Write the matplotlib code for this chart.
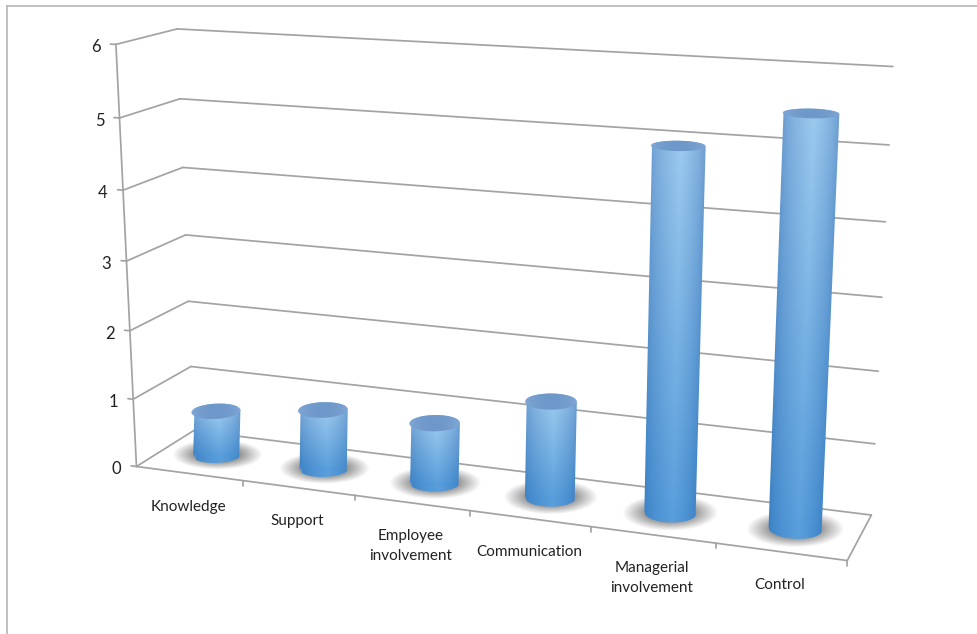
import numpy as np
import matplotlib
matplotlib.use("Agg")
import matplotlib.pyplot as plt
from matplotlib.patches import Polygon
from matplotlib.colors import to_rgb

categories = ["Knowledge", "Support", "Employee\ninvolvement", "Communication", "Managerial\ninvolvement", "Control"]
values = [0.66, 0.87, 0.87, 1.37, 4.97, 5.49]
value_ticks = [0, 1, 2, 3, 4, 5, 6]

# calibration of the 3-D box: (category pos, value, depth) -> pixel
anchors = [
    (0, 0, 0, 138, 467), (0, 1, 0, 133, 399), (0, 2, 0, 129, 330), (0, 3, 0, 126, 260),
    (0, 4, 0, 122, 190), (0, 5, 0, 120, 118), (0, 6, 0, 116, 45),
    (1, 0, 0, 244, 481), (2, 0, 0, 355, 496), (5, 0, 0, 716, 543), (6, 0, 0, 847, 561),
    (0, 0, 1, 193, 431), (0, 1, 1, 191, 366), (0, 2, 1, 188, 301), (0, 3, 1, 186, 235),
    (0, 4, 1, 182, 168), (0, 5, 1, 181, 99), (0, 6, 1, 177, 29),
    (6, 0, 1, 871, 515), (6, 1, 1, 875, 444), (6, 2, 1, 878, 371), (6, 3, 1, 882, 297),
    (6, 4, 1, 886, 221), (6, 5, 1, 889, 145), (6, 6, 1, 893, 67),
]
A, b = [], []
for u, v, d, x, y in anchors:
    A.append([u, v, d, 1, 0, 0, 0, 0, -x*u, -x*v, -x*d]); b.append(x)
    A.append([0, 0, 0, 0, u, v, d, 1, -y*u, -y*v, -y*d]); b.append(y)
coef = np.linalg.lstsq(np.array(A, float), np.array(b, float), rcond=None)[0]
M = np.append(coef, 1.0).reshape(3, 4)

def P(u, v, d):
    u, v, d = np.broadcast_arrays(np.asarray(u, float), np.asarray(v, float), np.asarray(d, float))
    h = M @ np.stack([u, v, d, np.ones_like(u)])
    return h[0]/h[2], h[1]/h[2]

GRID = "#a3a3a3"
W, H = 978, 634
fig = plt.figure(figsize=(W/100, H/100), dpi=100, facecolor="white")
ax = fig.add_axes([0, 0, 1, 1])
ax.set_xlim(0, W); ax.set_ylim(H, 0); ax.axis("off")

# outer frame
ax.plot([7, 7], [634, 6], color="#b0b0b0", lw=1.1)
ax.plot([7, 978], [6, 6], color="#b0b0b0", lw=1.1)

def seg(p, q, z=1):
    ax.plot([p[0], q[0]], [p[1], q[1]], color=GRID, lw=1.25, zorder=z, solid_capstyle="round")

n = len(categories)
for v in value_ticks:
    seg(P(-0.05, v, 0), P(0, v, 0))
    seg(P(0, v, 0), P(0, v, 1))
    seg(P(0, v, 1), P(n, v, 1))
    x, y = P(0, v, 0)
    ax.text(x-20, y+3, str(v), ha="center", va="center", fontsize=12, family="Lato", color="#222222")
seg(P(0, 0, 0), P(0, 6, 0))
seg(P(0, 0, 0), P(n, 0, 0))
seg(P(n, 0, 0), P(n, 0, 1))
for i in range(1, n+1):
    p = P(i, 0, 0)
    seg(p, (p[0], p[1]+5))

R_U, R_D = 0.205, 0.21
th = np.linspace(0, 2*np.pi, 181)

edge_top = np.array(to_rgb("#6b9bd0")); mid_top = np.array(to_rgb("#9ccaee"))
edge_bot = np.array(to_rgb("#3a80c4")); mid_bot = np.array(to_rgb("#5a9fdc"))
cap_mid = np.array(to_rgb("#6f98ca")); cap_edge = np.array(to_rgb("#7fa8d7"))

for i, (name, val) in enumerate(zip(categories, values)):
    c = i + 0.5
    bx, by = P(c + R_U*np.cos(th), 0, 0.5 + R_D*np.sin(th))
    tx, ty = P(c + R_U*np.cos(th), val, 0.5 + R_D*np.sin(th))

    # soft shadow on the floor
    cx, cy = (bx.max()+bx.min())/2, (by.max()+by.min())/2
    rx, ry = (bx.max()-bx.min())/2*1.85, (by.max()-by.min())/2*1.9
    xs = np.arange(cx-rx-2, cx+rx+3); ys = np.arange(cy-ry-2, cy+ry+3)
    gx, gy = np.meshgrid(xs, ys)
    rho = np.sqrt(((gx-cx)/rx)**2 + ((gy-cy)/ry)**2)
    sh = np.zeros(gx.shape+(4,))
    sh[..., :3] = 0.48
    sh[..., 3] = np.clip((1-rho)/0.5, 0, 1)*0.8
    ax.imshow(sh, extent=(xs[0], xs[-1], ys[-1], ys[0]), zorder=2, aspect="auto", interpolation="bilinear")

    # cylinder body
    li_b, ri_b = np.argmin(bx), np.argmax(bx)
    li_t, ri_t = np.argmin(tx), np.argmax(tx)
    front_b = np.where(np.sin(th) <= 0)[0]  # nearer half of base
    order = front_b[np.argsort(bx[front_b])]
    back_t = np.where(np.sin(th) >= 0)[0]
    order_t = back_t[np.argsort(-tx[back_t])]
    poly = np.vstack([np.c_[bx[order], by[order]], np.c_[tx[order_t], ty[order_t]]])
    patch = Polygon(poly, closed=True, fc="none", ec="none", transform=ax.transData)
    ax.add_patch(patch)
    x0, x1 = poly[:, 0].min()-1, poly[:, 0].max()+1
    y0, y1 = poly[:, 1].min()-1, poly[:, 1].max()+1
    xs = np.linspace(x0, x1, int(x1-x0)+1); ys = np.linspace(y0, y1, int(y1-y0)+1)
    gx, gy = np.meshgrid(xs, ys)
    f = (gy - ty[li_t])/(by[li_b]-ty[li_t])
    xl = tx[li_t] + (bx[li_b]-tx[li_t])*f
    xr = tx[ri_t] + (bx[ri_b]-tx[ri_t])*f
    t = np.clip((gx-xl)/(xr-xl), 0, 1)
    s = np.where(t < 0.55, t/0.55, (1-t)/0.45)**0.65
    fc = np.clip(f, 0, 1)[..., None]
    mid = mid_top + (mid_bot-mid_top)*fc
    edge = edge_top + (edge_bot-edge_top)*fc
    img = edge + (mid-edge)*s[..., None]
    im = ax.imshow(img, extent=(x0, x1, y1, y0), zorder=3, aspect="auto", interpolation="bilinear")
    im.set_clip_path(patch)

    # cap with a soft horizontal shade
    cap_patch = Polygon(np.c_[tx, ty], closed=True, fc="none", ec="none", transform=ax.transData)
    ax.add_patch(cap_patch)
    cx0, cx1, cy0, cy1 = tx.min()-1, tx.max()+1, ty.min()-1, ty.max()+1
    xs = np.linspace(cx0, cx1, int(cx1-cx0)+1)
    q = np.abs((xs-(cx0+cx1)/2)/((cx1-cx0)/2))[None, :, None]**2
    cap_img = cap_mid + (cap_edge-cap_mid)*q
    cim = ax.imshow(cap_img, extent=(cx0, cx1, cy1, cy0), zorder=4, aspect="auto", interpolation="bilinear")
    cim.set_clip_path(cap_patch)

    # label
    x, y = P(c, 0, 0)
    ax.text(x-1, y+26, name, ha="center", va="top", fontsize=11, family="Lato", color="#222222", linespacing=1.55)

ax.set_xlim(0, W); ax.set_ylim(H, 0)
fig.savefig("out.png", dpi=100, facecolor="white")
